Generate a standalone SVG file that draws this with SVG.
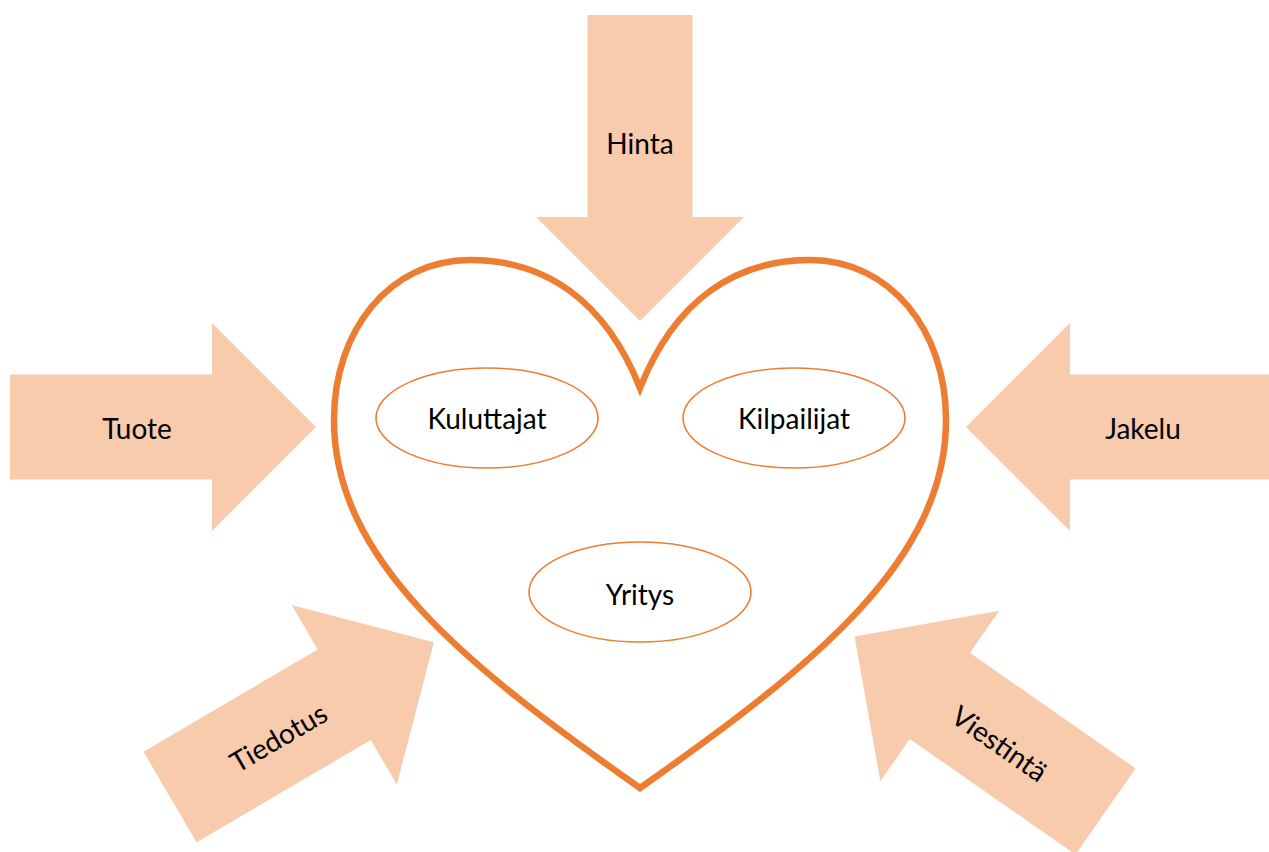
<svg xmlns="http://www.w3.org/2000/svg" width="1269" height="852" viewBox="0 0 1269 852">
<style>
.arrow{fill:#F8CBAD;stroke:none}
.oval{fill:#FFFFFF;stroke:#ED7D31;stroke-width:1.6}
.heart{fill:#FFFFFF;stroke:#ED7D31;stroke-width:6.5;stroke-linejoin:miter}
.lbl{font-family:Lato,"Open Sans","Liberation Sans",sans-serif;font-size:28px;fill:#000000;text-anchor:middle;dominant-baseline:central}
</style>
<defs>
<path id="arr" d="M0,-52.5 L202,-52.5 L202,-104 L306,0 L202,104 L202,52.5 L0,52.5 Z"/>
</defs>
<rect width="1269" height="852" fill="#FFFFFF"/>
<g id="heart">
<path class="heart" d="M640,388 C605,300 545,260 470,260 C390,260 334,330 334,420 C334,560 465,665 640,788 C815,665 946,560 946,420 C946,330 890,260 810,260 C735,260 675,300 640,388 Z"/>
</g>
<g id="hinta">
<use href="#arr" class="arrow" transform="translate(640,15) rotate(90)"/>
<text class="lbl" x="640" y="143">Hinta</text>
</g>
<g id="tuote">
<use href="#arr" class="arrow" transform="translate(10,427)"/>
<text class="lbl" x="137" y="428">Tuote</text>
</g>
<g id="jakelu">
<use href="#arr" class="arrow" transform="translate(1272,427) rotate(180)"/>
<text class="lbl" x="1143" y="428">Jakelu</text>
</g>
<g id="tiedotus">
<use href="#arr" class="arrow" transform="translate(170,797) rotate(-30.4)"/>
<text class="lbl" transform="translate(278,737) rotate(-30.4)">Tiedotus</text>
</g>
<g id="viestinta">
<use href="#arr" class="arrow" transform="translate(1105.5,811.5) rotate(-145.1)"/>
<text class="lbl" transform="translate(1000,743) rotate(34.9)">Viestintä</text>
</g>
<g id="kuluttajat">
<ellipse class="oval" cx="487" cy="418" rx="111" ry="50"/>
<text class="lbl" x="487" y="418">Kuluttajat</text>
</g>
<g id="kilpailijat">
<ellipse class="oval" cx="794" cy="418" rx="111" ry="50"/>
<text class="lbl" x="794" y="418">Kilpailijat</text>
</g>
<g id="yritys">
<ellipse class="oval" cx="640" cy="592" rx="111" ry="50"/>
<text class="lbl" x="640" y="594">Yritys</text>
</g>
<g id="connectors"></g>
</svg>
